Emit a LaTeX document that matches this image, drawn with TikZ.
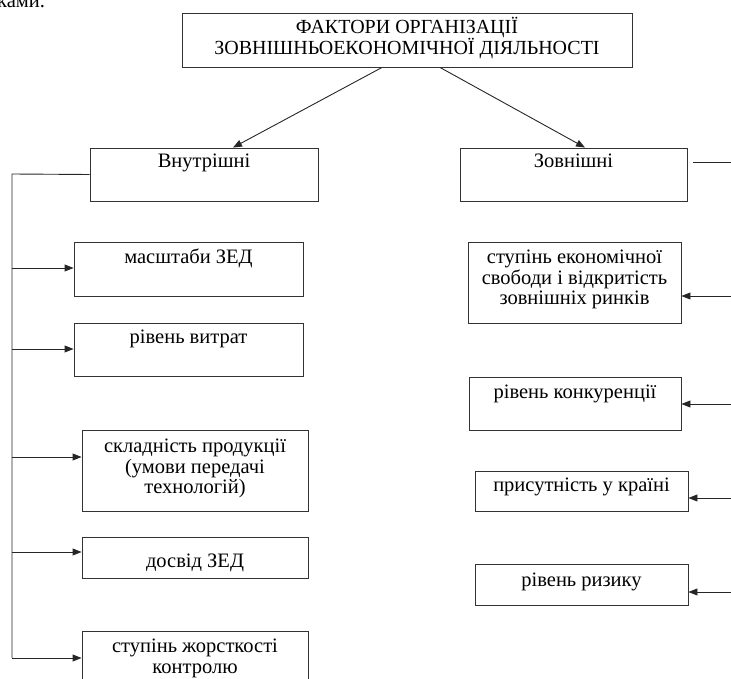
\documentclass[tikz,border=0pt]{standalone}
\usepackage{fontspec}
\setmainfont{Liberation Serif}
\usetikzlibrary{arrows.meta,positioning}

\tikzset{
  box/.style={draw=black!80, line width=0.9pt, inner sep=0pt},
  lbl/.style={inner sep=0pt, align=center, font=\fontsize{20.5}{20.5}\selectfont},
  head/.style={inner sep=0pt, align=center, font=\fontsize{20}{18}\selectfont},
  link/.style={draw=black!85, line width=0.9pt},
  arr/.style={link, -{Triangle[length=9pt,width=7pt]}},
}

\begin{document}
\begin{tikzpicture}[x=1pt,y=-1pt]
  \useasboundingbox (0,0) rectangle (731,679);
  \clip (0,0) rectangle (731,679);

  % text cut off above the figure
  \node[lbl, anchor=base west] (kamy) at (-3,8) {ками.};

  % main box (base = last line)
  \node[box, minimum width=450pt, minimum height=54pt] (fact) at (407,40) {};
  \node[head, anchor=base] (fact-t) at ([yshift=-42pt]fact.north)
    {ФАКТОРИ ОРГАНІЗАЦІЇ\\ЗОВНІШНЬОЕКОНОМІЧНОЇ ДІЯЛЬНОСТІ};

  % two groups
  \node[box, minimum width=228pt, minimum height=53pt] (vnut) at (204,174.5) {};
  \node[lbl, anchor=base] (vnut-t) at ([yshift=-20pt]vnut.north) {Внутрішні};
  \node[box, minimum width=227pt, minimum height=53pt] (zovn) at (573.5,174.5) {};
  \node[lbl, anchor=base] (zovn-t) at ([yshift=-20pt]zovn.north) {Зовнішні};

  \draw[arr] ([xshift=-25pt]fact.south) -- ([xshift=29pt]vnut.north);
  \draw[arr] ([xshift=33pt]fact.south) -- ([xshift=11.5pt]zovn.north);

  % internal factors
  \node[box, minimum width=229pt, minimum height=54pt] (masht) at (188.5,269) {};
  \node[lbl, anchor=base] (masht-t) at ([yshift=-22pt]masht.north) {масштаби ЗЕД};
  \node[box, minimum width=229pt, minimum height=53pt] (vytr) at (188.5,349.5) {};
  \node[lbl, anchor=base] (vytr-t) at ([yshift=-21pt]vytr.north) {рівень витрат};
  \node[box, minimum width=226pt, minimum height=81pt] (sklad) at (195,470.5) {};
  \node[lbl, anchor=base] (sklad-t) at ([yshift=-64pt]sklad.north)
    {складність продукції\\(умови передачі\\технологій)};
  \node[box, minimum width=226pt, minimum height=41pt] (dosvid) at (195,557.5) {};
  \node[lbl, anchor=base] (dosvid-t) at ([yshift=-31pt]dosvid.north) {досвід ЗЕД};
  \node[box, minimum width=226pt, minimum height=90pt, anchor=north] (zhorst) at (195,631) {};
  \node[lbl, anchor=base] (zhorst-t) at ([yshift=-42pt]zhorst.north)
    {ступінь жорсткості\\контролю};

  % external factors
  \node[box, minimum width=213pt, minimum height=81pt] (stup) at (574.5,282.5) {};
  \node[lbl, anchor=base] (stup-t) at ([yshift=-63pt]stup.north)
    {ступінь економічної\\свободи і відкритість\\зовнішніх ринків};
  \node[box, minimum width=212pt, minimum height=53pt] (konk) at (575,403.5) {};
  \node[lbl, anchor=base] (konk-t) at ([yshift=-22pt]konk.north) {рівень конкуренції};
  \node[box, minimum width=213pt, minimum height=40pt] (prys) at (581.5,491) {};
  \node[lbl, anchor=base] (prys-t) at ([yshift=-21pt]prys.north) {присутність у країні};
  \node[box, minimum width=213pt, minimum height=41pt] (ryzyk) at (581.5,584.5) {};
  \node[lbl, anchor=base] (ryzyk-t) at ([yshift=-23pt]ryzyk.north) {рівень ризику};

  % buses
  \coordinate (bus-top) at (12,174);
  \coordinate (bus-bot) at (12,658);
  \coordinate (rbus) at (760,162);
  \coordinate (zovn-out) at (693,162);

  \draw[link] (vnut.west) -- (bus-top) -- (bus-bot);
  \foreach \n/\y in {masht/268, vytr/349, sklad/457, dosvid/552, zhorst/658}
    \draw[arr] (bus-top |- 0,\y) -- (\n.west |- 0,\y);

  \draw[link] (zovn-out) -- (rbus);
  \foreach \n/\y in {stup/296, konk/404, prys/498, ryzyk/592}
    \draw[arr] (rbus |- 0,\y) -- (\n.east |- 0,\y);
\end{tikzpicture}
\end{document}
